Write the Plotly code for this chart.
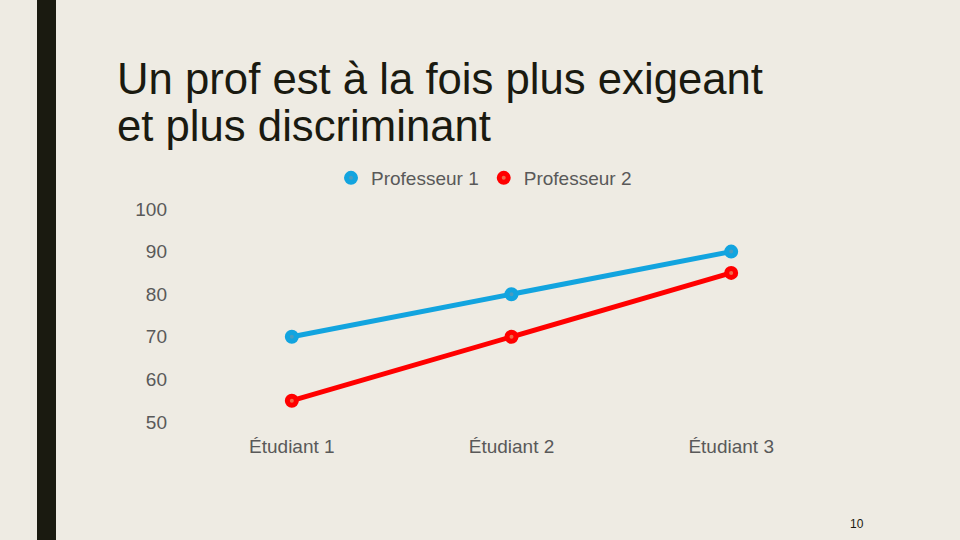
import plotly.graph_objects as go

# données
etudiants = ["Étudiant 1", "Étudiant 2", "Étudiant 3"]
prof1 = [70, 80, 90]
prof2 = [55, 70, 85]
y_ticks = [50, 60, 70, 80, 90, 100]

W, H = 960, 540
BG = "#EEEBE3"
BLUE = "#12A4DF"
RED = "#FF0000"
GRAY = "#595959"
FONT = "Liberation Sans, Arial, sans-serif"


def px(x):
    return x / W


def py(y):
    return 1 - y / H


fig = go.Figure()

# séries (marqueur avec petit centre légèrement différent)
series = [("Professeur 1", prof1, BLUE, "#4A9CC0"), ("Professeur 2", prof2, RED, "#F06A4A")]
for name, vals, col, centre in series:
    fig.add_trace(go.Scatter(x=etudiants, y=vals, name=name, mode="lines+markers",
                             line=dict(color=col, width=5),
                             marker=dict(color=centre, size=9, line=dict(color=col, width=5)),
                             showlegend=False))
    # entrée de légende (marqueur seul)
    fig.add_trace(go.Scatter(x=[None], y=[None], name=name, mode="markers",
                             marker=dict(color=centre, size=9, line=dict(color=col, width=5))))

fig.update_layout(
    width=W, height=H,
    paper_bgcolor=BG, plot_bgcolor=BG,
    margin=dict(l=0, r=0, t=0, b=0, autoexpand=False),
    font=dict(family=FONT, size=19, color=GRAY),
    xaxis=dict(domain=[px(182), px(841)], range=[-0.5, 2.5], showgrid=False,
               zeroline=False, showline=False, ticks="", ticklabelstandoff=11,
               automargin=False, tickfont=dict(size=19, color=GRAY)),
    yaxis=dict(domain=[py(422), py(209)], range=[50, 100], tickvals=y_ticks,
               showgrid=False, zeroline=False, showline=False, ticks="",
               automargin=False, ticklabelstandoff=14, tickfont=dict(size=19, color=GRAY)),
    legend=dict(orientation="h", x=px(331), y=py(178), xanchor="left", yanchor="middle",
                bgcolor="rgba(0,0,0,0)", font=dict(size=19, color=GRAY),
                itemwidth=30, tracegroupgap=0),
    showlegend=True,
)

# barre verticale sombre à gauche
fig.add_shape(type="rect", xref="paper", yref="paper", x0=px(37), x1=px(56), y0=0, y1=1,
              fillcolor="#1A1A10", line=dict(width=0), layer="below")

# titre sur deux lignes
for i, txt in enumerate(["Un prof est à la fois plus exigeant", "et plus discriminant"]):
    fig.add_annotation(text=txt, xref="paper", yref="paper", x=px(115), y=py(79 + 46 * i),
                       xanchor="left", yanchor="middle", showarrow=False,
                       font=dict(family=FONT, size=43.7, color="#1A1A10"))

# numéro de page
fig.add_annotation(text="10", xref="paper", yref="paper", x=px(857), y=py(524),
                   xanchor="center", yanchor="middle", showarrow=False,
                   font=dict(family=FONT, size=12, color="#1A1A10"))

fig.write_html("out.html", config={"displayModeBar": False},
               post_script="document.body.style.margin='0';")
